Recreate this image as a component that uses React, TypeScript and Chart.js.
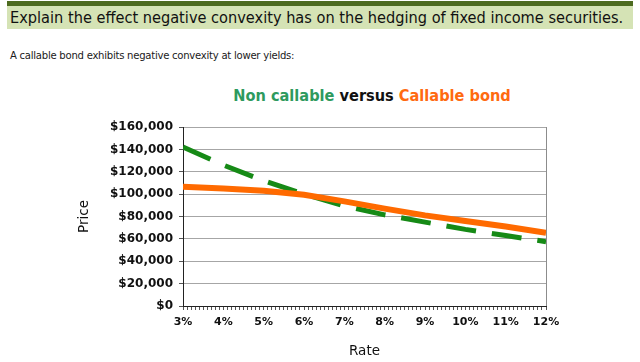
import React, { useEffect, useRef } from "react";
import { Chart, registerables } from "chart.js";

Chart.register(...registerables);

const rates = [3, 4, 5, 6, 7, 8, 9, 10, 11, 12];
const nonCallable = [142000, 126000, 112000, 100000, 89500, 81500, 75000, 68500, 63000, 57500];
const callable = [106500, 105000, 103000, 99500, 93500, 87000, 81000, 76000, 71000, 65500];
const yTicks = { min: 0, max: 160000, step: 20000 };
const xTicks = { min: 3, max: 12, step: 0.1 };

const headerText = "Explain the effect negative convexity has on the hedging of fixed income securities.";
const introText = "A callable bond exhibits negative convexity at lower yields:";

export default function App() {
  const ref = useRef<HTMLCanvasElement | null>(null);

  useEffect(() => {
    if (!ref.current) return;
    const chart = new Chart(ref.current, {
      type: "line",
      data: {
        datasets: [
          {
            label: "Callable bond",
            data: rates.map((r, i) => ({ x: r, y: callable[i] })),
            borderColor: "#ff6a00",
            borderWidth: 6,
            pointRadius: 0,
            tension: 0,
          },
          {
            label: "Non callable",
            data: rates.map((r, i) => ({ x: r, y: nonCallable[i] })),
            borderColor: "#168a16",
            borderWidth: 5,
            borderDash: [30, 16],
            pointRadius: 0,
            tension: 0,
          },
        ],
      },
      options: {
        animation: false,
        responsive: false,
        layout: { padding: { left: 0, right: 34, top: 17, bottom: 0 } },
        plugins: { legend: { display: false }, tooltip: { enabled: false }, title: { display: false } },
        scales: {
          x: {
            type: "linear",
            min: xTicks.min,
            max: xTicks.max,
            afterFit: (s: any) => {
              s.height = 56;
            },
            border: { display: true, color: "#222222", width: 1 },
            grid: {
              drawOnChartArea: true,
              color: (c: any) => (c.index === 90 ? "#8c8c8c" : "rgba(0,0,0,0)"),
              tickColor: "#555555",
              tickLength: 4,
            },
            ticks: {
              stepSize: xTicks.step,
              autoSkip: false,
              maxRotation: 0,
              padding: 6,
              color: "#111111",
              font: { family: "DejaVu Sans", size: 11, weight: "bold" },
              callback: (v: any) => {
                const n = Number(v);
                return Math.abs(n - Math.round(n)) < 1e-6 ? Math.round(n) + "%" : "";
              },
            },
            title: {
              display: true,
              text: "Rate",
              color: "#111111",
              font: { family: "DejaVu Sans", size: 13.5 },
              padding: { top: 0, bottom: 2 },
            },
          },
          y: {
            min: yTicks.min,
            max: yTicks.max,
            afterFit: (s: any) => {
              s.width = 123;
            },
            border: { display: true, color: "#222222", width: 1 },
            grid: { color: "#a6a6a6", tickColor: "#555555", tickLength: 4 },
            ticks: {
              stepSize: yTicks.step,
              padding: 6,
              color: "#111111",
              font: { family: "DejaVu Sans", size: 12, weight: "bold" },
              callback: (v: any) => "$" + Number(v).toLocaleString("en-US"),
            },
            title: {
              display: true,
              text: "Price",
              color: "#111111",
              font: { family: "DejaVu Sans", size: 13.5 },
              padding: { top: 16, bottom: 0 },
            },
          },
        },
      },
    });
    return () => chart.destroy();
  }, []);

  return (
    <div style={{ position: "absolute", left: 0, top: 0, width: 640, height: 362, background: "#fff", overflow: "hidden" }}>
      <div style={{ position: "absolute", left: 7, top: 1, width: 626, height: 5, background: "#4d6b1f" }} />
      <div
        style={{
          position: "absolute",
          left: 7,
          top: 6,
          width: 626,
          height: 23,
          background: "#d5e3b5",
          fontFamily: "DejaVu Sans Condensed",
          fontSize: 16.2,
          lineHeight: "24px",
          color: "#111111",
          paddingLeft: 3,
          whiteSpace: "nowrap",
          boxSizing: "border-box",
        }}
      >
        {headerText}
      </div>
      <div
        style={{
          position: "absolute",
          left: 10,
          top: 48,
          fontFamily: "DejaVu Sans Condensed",
          fontSize: 11.2,
          letterSpacing: -0.25,
          lineHeight: "16px",
          color: "#1a1a1a",
          whiteSpace: "nowrap",
        }}
      >
        {introText}
      </div>
      <div
        style={{
          position: "absolute",
          left: 0,
          width: 744,
          top: 86,
          textAlign: "center",
          fontFamily: "DejaVu Sans Condensed",
          fontWeight: "bold",
          fontSize: 16.2,
          lineHeight: "20px",
          whiteSpace: "nowrap",
        }}
      >
        <span style={{ color: "#2e9a5e" }}>Non callable</span>
        <span style={{ color: "#111111" }}> versus </span>
        <span style={{ color: "#ff6a10" }}>Callable bond</span>
      </div>
      <canvas ref={ref} width={520} height={252} style={{ position: "absolute", left: 60, top: 110, width: 520, height: 252 }} />
    </div>
  );
}
